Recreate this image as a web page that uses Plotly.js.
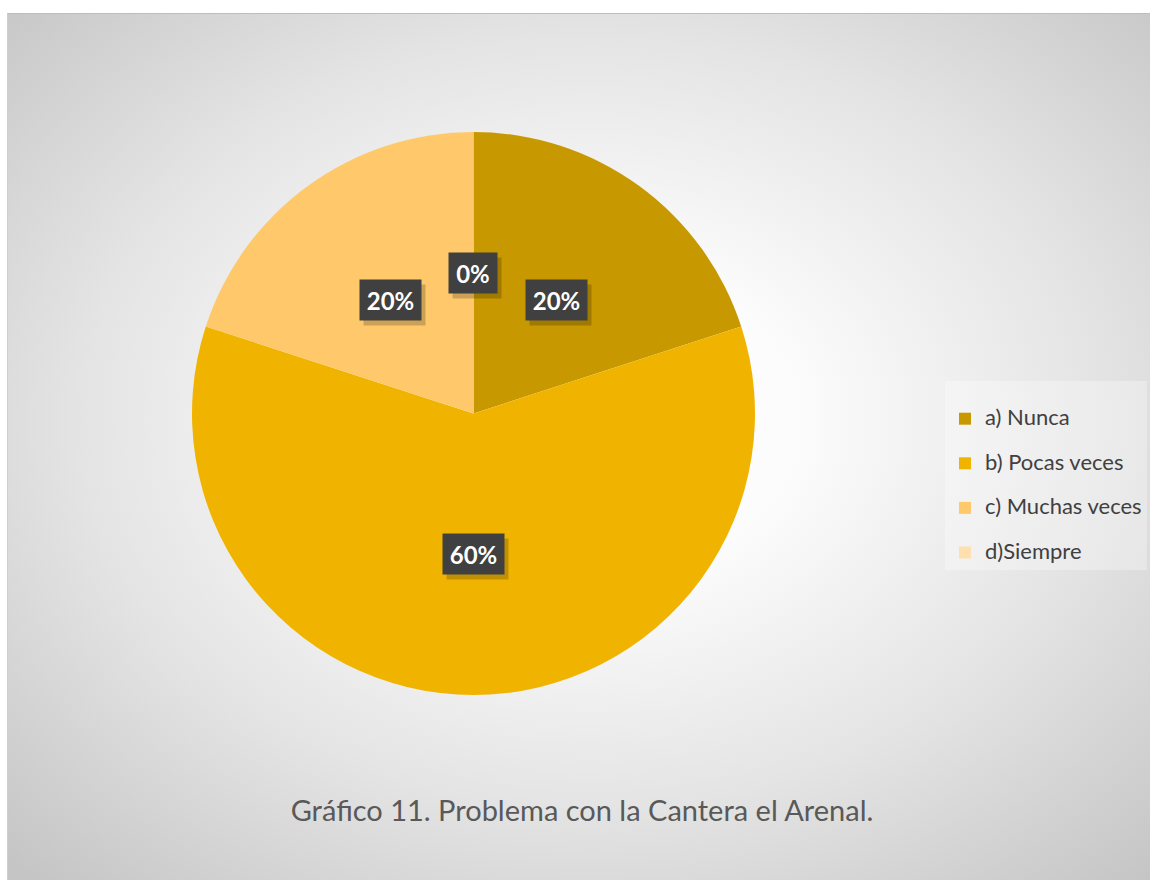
<!DOCTYPE html>
<html>
<head>
<meta charset="utf-8">
<script src="https://cdn.plot.ly/plotly-3.0.1.min.js"></script>
<style>
  html, body { margin: 0; padding: 0; background: #ffffff; }
  #bg { position: absolute; left: 7px; top: 13px; width: 1143px; height: 867px;
        background: radial-gradient(ellipse 72% 72% at 51% 47%, #ffffff 0%, #fcfcfc 25%, #e4e4e4 62%, #c5c5c5 100%);
        border-top: 1px solid #bdbdbd; border-left: 1px solid #cfcfcf; box-sizing: border-box; }
  #chart { position: absolute; left: 0; top: 0; width: 1150px; height: 880px; }
</style>
</head>
<body>
<div id="bg"></div>
<div id="chart"></div>
<script>
const categories = ["a) Nunca", "b) Pocas veces", "c) Muchas veces", "d)Siempre"];
const values = [20, 60, 20, 0];
const sliceColors = ["#C89800", "#F0B400", "#FFC96B", "#FFDFAD"];
const chartTitle = "Gráfico 11. Problema con la Cantera el Arenal.";

const W = 1150, H = 880;
const dom = { x: [192 / W, 755 / W], y: [1 - 695 / H, 1 - 132 / H] };

// label positions computed from the data (half radius, slice mid-angle, clockwise from top)
const total = values.reduce((a, b) => a + b, 0);
const cx = (dom.x[0] + dom.x[1]) / 2, cy = (dom.y[0] + dom.y[1]) / 2;
const rx = (dom.x[1] - dom.x[0]) / 2, ry = (dom.y[1] - dom.y[0]) / 2;
const annotations = [];
let cum = 0;
values.forEach((v) => {
  const th = (cum + v / 2) / total * 2 * Math.PI;
  cum += v;
  const ax = cx + 0.5 * rx * Math.sin(th);
  const ay = cy + 0.5 * ry * Math.cos(th);
  const pct = Math.round(v / total * 100) + "%";
  const w = pct.length >= 3 ? 51 : 38;
  const base = { xref: "paper", yref: "paper", x: ax, y: ay, xanchor: "center", yanchor: "middle",
                 showarrow: false, width: w, height: 30, borderpad: 5 };
  // soft drop shadow box
  annotations.push(Object.assign({}, base, { xshift: 4, yshift: -5, text: "\u00a0",
    font: { family: "Lato, sans-serif", size: 12, color: "rgba(0,0,0,0)" }, bgcolor: "rgba(0,0,0,0.2)" }));
  annotations.push(Object.assign({}, base, { text: "<b>" + pct + "</b>",
    font: { family: "Lato, sans-serif", size: 24, color: "#ffffff" }, bgcolor: "#404040" }));
});

// legend entries: an empty leading line gives the Excel-like row spacing
const legendLabels = categories.map(c => "\u00a0<br><span style=\"font-size:22px\">" + c + "</span>");

const data = [{
  type: "pie",
  labels: legendLabels,
  values: values,
  sort: false,
  direction: "clockwise",
  rotation: 0,
  marker: { colors: sliceColors, line: { width: 0 } },
  textinfo: "none",
  hoverinfo: "percent",
  domain: dom,
  showlegend: true
}];

const layout = {
  width: W, height: H,
  margin: { l: 0, r: 0, t: 0, b: 0 },
  paper_bgcolor: "rgba(0,0,0,0)",
  plot_bgcolor: "rgba(0,0,0,0)",
  font: { family: "Lato, sans-serif", color: "#404040" },
  title: { text: chartTitle, xref: "paper", yref: "paper", x: 582 / W, xanchor: "center",
           y: 1 - 811 / H, yanchor: "middle", font: { family: "Lato, sans-serif", size: 29, color: "#595959" } },
  legend: { x: 945 / W, xanchor: "left", y: 1 - 381 / H, yanchor: "top", valign: "bottom",
            bgcolor: "rgba(255,255,255,0.3)", font: { family: "Lato, sans-serif", size: 16, color: "#404040" },
            traceorder: "normal" },
  annotations: annotations
};

Plotly.newPlot("chart", data, layout, { displayModeBar: false, staticPlot: true });
</script>
</body>
</html>
